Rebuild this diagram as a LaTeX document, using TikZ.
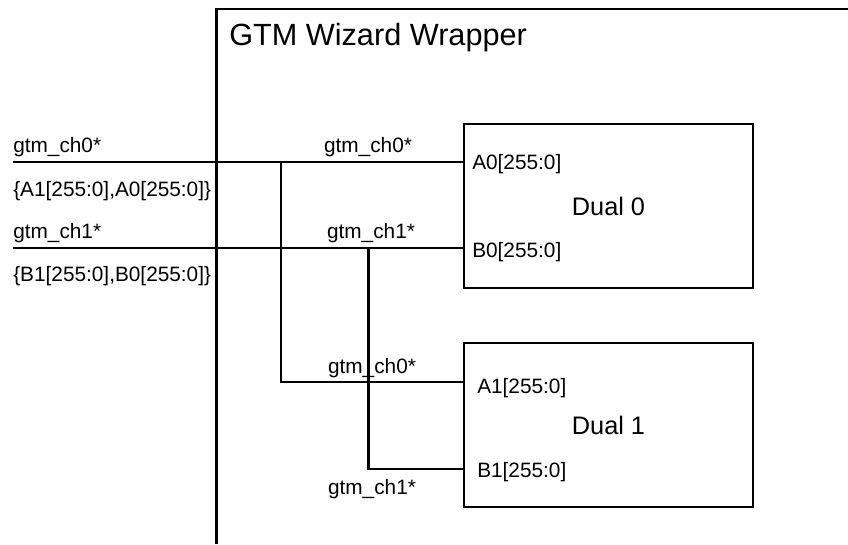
\documentclass[tikz,border=0pt]{standalone}
\usepackage{fontspec}
\setmainfont{Liberation Sans}
\usetikzlibrary{positioning}

\tikzset{
    wire/.style={line width=1.6pt},
    dualbox/.style={draw, line width=1.6pt, minimum width=216.75pt, minimum height=123pt,
        inner sep=0pt, font=\fontsize{19}{21}\selectfont},
    portlbl/.style={anchor=base west, inner sep=0pt, font=\fontsize{15.6}{18}\selectfont},
    siglbl/.style={inner sep=0pt, font=\fontsize{15.6}{18}\selectfont}
}

\begin{document}
\begin{tikzpicture}[x=0.75pt, y=-0.75pt]
    \useasboundingbox (0,0) rectangle (848,544);
    % wrapper outline, runs off the page to the right and bottom
    \draw[wire] (848,9) -- (216.5,9) -- (216.5,544);
    \node[anchor=base west, inner sep=0pt, font=\fontsize{23}{27}\selectfont] (title) at (229,45) {GTM Wizard Wrapper};

    \node[dualbox] (dual0) at (608.5,206) {Dual 0};
    \node[dualbox] (dual1) at (608.5,425) {Dual 1};

    \node[portlbl] (a0) at (472,169) {A0[255:0]};
    \node[portlbl] (b0) at (472,257) {B0[255:0]};
    \node[portlbl] (a1) at (477,393) {A1[255:0]};
    \node[portlbl] (b1) at (477,477) {B1[255:0]};

    % inputs on the left
    \coordinate (in0) at (13,162);
    \coordinate (in1) at (13,248);
    \node[siglbl, anchor=base west] (in0top) at (13,152) {gtm\_ch0*};
    \node[siglbl, anchor=base west] (in0bot) at (13,196) {\{A1[255:0],A0[255:0]\}};
    \node[siglbl, anchor=base west] (in1top) at (13,238) {gtm\_ch1*};
    \node[siglbl, anchor=base west] (in1bot) at (13,281) {\{B1[255:0],B0[255:0]\}};

    % ports on the dual blocks
    \coordinate (pa0) at (dual0.west |- 0,162);
    \coordinate (pb0) at (dual0.west |- 0,248);
    \coordinate (pa1) at (dual1.west |- 0,382);
    \coordinate (pb1) at (dual1.west |- 0,469);

    % branch points
    \coordinate (br0) at (281,162);
    \coordinate (br1) at (368.5,248);

    \draw[wire] (in0) -- (pa0);
    \draw[wire] (in1) -- (pb0);
    \draw[wire] (br0) |- (pa1);
    \draw[wire] (br1) |- (pb1);

    \node[siglbl, anchor=base] (ch0a) at (368,152) {gtm\_ch0*};
    \node[siglbl, anchor=base] (ch1a) at (371,238) {gtm\_ch1*};
    \node[siglbl, anchor=base] (ch0b) at (372,373) {gtm\_ch0*};
    \node[siglbl, anchor=base] (ch1b) at (372,494) {gtm\_ch1*};
\end{tikzpicture}
\end{document}
